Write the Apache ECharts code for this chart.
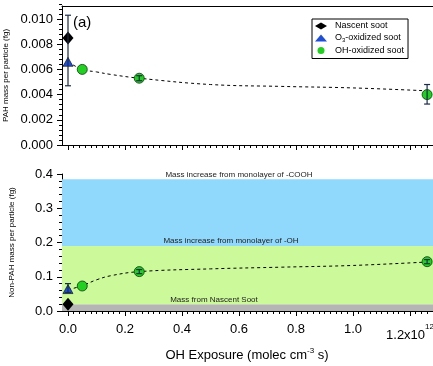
<!DOCTYPE html>
<html>
<head>
<meta charset="utf-8">
<script src="https://cdn.jsdelivr.net/npm/echarts@6/dist/echarts.min.js"></script>
<style>
  html, body { margin: 0; padding: 0; background: #fff; }
  #chart { width: 433px; height: 366px; }
</style>
</head>
<body>
<div id="chart"></div>
<script>
// values (OH exposure in 1e12 molec cm^-3 s)
const expNascent = [0];
const pahNascent = [0.0085];
const nonPahNascent = [0.02];

const expO3 = [0];
const pahO3 = [0.0066];
const nonPahO3 = [0.064];

const expOH = [0.05, 0.25, 1.26];
const pahOH = [0.0060, 0.0053, 0.0040];
const nonPahOH = [0.073, 0.115, 0.144];

// error bars
const pahErrX = [0, 0.25, 1.26];
const pahErrLo = [0.0047, 0.0051, 0.00325];
const pahErrHi = [0.0103, 0.0055, 0.0048];
const nonPahErrX = [0, 0.25, 1.26];
const nonPahErrLo = [0.054, 0.109, 0.138];
const nonPahErrHi = [0.080, 0.121, 0.150];

// dashed fit curves
const fitX = [0, 0.05, 0.1, 0.15, 0.25, 0.5, 0.75, 1.0, 1.26];
const pahFit = [0.0066, 0.0060, 0.0058, 0.0056, 0.0053, 0.0048, 0.00465, 0.00453, 0.0043];
const nonPahFit = [0.062, 0.074, 0.091, 0.103, 0.115, 0.123, 0.128, 0.133, 0.143];

// shaded bands of panel (b)
const bandLo = [0, 0.02, 0.19];
const bandHi = [0.02, 0.19, 0.385];
const bandText = ['Mass from Nascent Soot', 'Mass increase from monolayer of -OH', 'Mass increase from monolayer of -COOH'];

const xTickLabels = ['0.0', '0.2', '0.4', '0.6', '0.8', '1.0', '1.2'];

const FONT = 'Liberation Sans, Arial, sans-serif';
const X_MIN = -0.02105;   // left edge of the frame
const X_MAX = 1.4;        // past the right edge of the window
const bandColors = ['#b5b5b5', '#ccf99a', '#90d9fc'];

const zip = (xs, ys) => xs.map((x, i) => [x, ys[i]]);
const errData = (xs, lo, hi) => xs.map((x, i) => [x, lo[i], hi[i]]);

const chart = echarts.init(document.getElementById('chart'));

function errorBar(params, api) {
  const x = api.value(0);
  const p1 = api.coord([x, api.value(1)]);
  const p2 = api.coord([x, api.value(2)]);
  const w = 3;
  const st = { stroke: '#1b2b4a', lineWidth: 1.2 };
  return {
    type: 'group',
    children: [
      { type: 'line', shape: { x1: p1[0], y1: p1[1], x2: p2[0], y2: p2[1] }, style: st },
      { type: 'line', shape: { x1: p1[0] - w, y1: p1[1], x2: p1[0] + w, y2: p1[1] }, style: st },
      { type: 'line', shape: { x1: p2[0] - w, y1: p2[1], x2: p2[0] + w, y2: p2[1] }, style: st }
    ]
  };
}

const lineOnly = () => ({ show: true, onZero: false, lineStyle: { color: '#000', width: 1 } });
const noLine = () => ({ show: false, onZero: false });
const ticks = (len) => ({ show: true, length: len, lineStyle: { color: '#000', width: 1 } });
const minor = (n) => ({ show: true, splitNumber: n, length: 3, lineStyle: { color: '#000', width: 1 } });
const gridBase = { right: -34, containLabel: false, outerBoundsMode: 'none' };

const option = {
  backgroundColor: '#fff',
  animation: false,
  textStyle: { fontFamily: FONT },
  grid: [
    { ...gridBase, left: 62, top: 6, height: 139 },       // (a) frame + data
    { ...gridBase, left: 68, top: -6.2, height: 151.2 },  // (a) ticks
    { ...gridBase, left: 62, top: 174, height: 137 },     // (b) frame + data
    { ...gridBase, left: 68, top: 174, height: 137 }      // (b) x ticks
  ],
  xAxis: [
    { gridIndex: 0, type: 'value', min: X_MIN, max: X_MAX, axisLine: lineOnly(),
      axisTick: { show: false }, axisLabel: { show: false }, splitLine: { show: false } },
    { gridIndex: 0, type: 'value', position: 'top', min: X_MIN, max: X_MAX, axisLine: lineOnly(),
      axisTick: { show: false }, axisLabel: { show: false }, splitLine: { show: false } },
    { gridIndex: 1, type: 'value', min: 0, max: X_MAX, interval: 0.2, axisLine: noLine(),
      axisTick: ticks(5), minorTick: minor(10),
      axisLabel: { show: false }, splitLine: { show: false } },
    { gridIndex: 2, type: 'value', min: X_MIN, max: X_MAX, axisLine: lineOnly(),
      axisTick: { show: false }, axisLabel: { show: false }, splitLine: { show: false } },
    { gridIndex: 3, type: 'value', min: 0, max: X_MAX, interval: 0.2, axisLine: noLine(),
      axisTick: ticks(5), minorTick: minor(10),
      splitLine: { show: false },
      axisLabel: {
        color: '#000', fontSize: 13, margin: 12, fontFamily: FONT,
        formatter: (v) => {
          const i = Math.round(v / 0.2);
          if (i >= xTickLabels.length) return '';
          if (i === xTickLabels.length - 1) return '{m|' + xTickLabels[i] + 'x10}{s|12}';
          return xTickLabels[i];
        },
        rich: {
          m: { fontSize: 13, color: '#000', fontFamily: FONT, padding: [6, 0, 0, 0] },
          s: { fontSize: 8, color: '#000', fontFamily: FONT, verticalAlign: 'top' }
        }
      } }
  ],
  yAxis: [
    { gridIndex: 0, type: 'value', min: 0, max: 139 / 12600, axisLine: lineOnly(),
      axisTick: { show: false }, axisLabel: { show: false }, splitLine: { show: false },
      name: 'PAH mass per particle (fg)', nameLocation: 'middle', nameGap: 52,
      nameTextStyle: { fontSize: 8, color: '#000', fontFamily: FONT } },
    { gridIndex: 1, type: 'value', min: 0, max: 0.012, interval: 0.002, offset: 6,
      axisLine: noLine(),
      axisTick: ticks(5), minorTick: minor(5),
      splitLine: { show: false },
      axisLabel: { color: '#000', fontSize: 13, margin: 9, fontFamily: FONT, showMaxLabel: false,
        formatter: (v) => v.toFixed(3) } },
    { gridIndex: 2, type: 'value', min: 0, max: 0.4, interval: 0.1, axisLine: lineOnly(),
      axisTick: ticks(5), minorTick: minor(5),
      splitLine: { show: false },
      axisLabel: { color: '#000', fontSize: 13, margin: 9, fontFamily: FONT,
        formatter: (v) => v.toFixed(1) },
      name: 'Non-PAH mass per particle (fg)', nameLocation: 'middle', nameGap: 46,
      nameTextStyle: { fontSize: 8, color: '#000', fontFamily: FONT } },
    { gridIndex: 3, type: 'value', min: 0, max: 0.4, show: false }
  ],
  legend: {
    left: 312, top: 19, orient: 'vertical',
    itemWidth: 12, itemHeight: 7, itemGap: 2,
    padding: [2, 4, 3, 3],
    borderColor: '#000', borderWidth: 1, backgroundColor: '#fff',
    itemStyle: { borderWidth: 0 },
    data: ['Nascent soot', 'O3-oxidized soot', 'OH-oxidized soot'],
    formatter: (name) => name === 'O3-oxidized soot' ? 'O{sub|3}-oxidized soot' : name,
    textStyle: {
      fontSize: 9, color: '#000', fontFamily: FONT, lineHeight: 10, padding: [0, 0, 0, 3],
      rich: { sub: { fontSize: 6, fontFamily: FONT, color: '#000', padding: [5, 0, 0, 0] } }
    }
  },
  graphic: [
    { type: 'text', left: 73, top: 15, style: { text: '(a)', font: '15px ' + FONT, fill: '#000' } },
    { type: 'text', left: 75, top: 185, style: { text: '(b)', font: '15px ' + FONT, fill: '#000' } },
    { type: 'text', x: 239, y: 175, style: { text: bandText[2], font: '8px ' + FONT, fill: '#222', align: 'center', verticalAlign: 'middle' }, z: 10 },
    { type: 'text', x: 231, y: 241, style: { text: bandText[1], font: '8px ' + FONT, fill: '#222', align: 'center', verticalAlign: 'middle' }, z: 10 },
    { type: 'text', x: 214, y: 300, style: { text: bandText[0], font: '8px ' + FONT, fill: '#222', align: 'center', verticalAlign: 'middle' }, z: 10 },
    { type: 'text', x: 247, y: 355, style: {
        text: 'OH Exposure (molec cm{sup|-3} s)', font: '13px ' + FONT, fill: '#000',
        align: 'center', verticalAlign: 'middle',
        rich: { sup: { fontSize: 8, fontFamily: FONT, fill: '#000', padding: [0, 0, 8, 0] } }
      } }
  ],
  series: [
    // bands
    { type: 'line', xAxisIndex: 3, yAxisIndex: 2, data: [], silent: true, z: 0,
      markArea: {
        silent: true,
        data: bandLo.map((lo, i) => [
          { xAxis: 'min', yAxis: lo, itemStyle: { color: bandColors[i] } },
          { xAxis: 'max', yAxis: bandHi[i] }
        ])
      } },
    // fits
    { type: 'line', xAxisIndex: 0, yAxisIndex: 0, data: zip(fitX, pahFit), smooth: 0.4,
      showSymbol: false, lineStyle: { color: '#000', width: 1, type: [3, 3] }, z: 2 },
    { type: 'line', xAxisIndex: 3, yAxisIndex: 2, data: zip(fitX, nonPahFit), smooth: 0.4,
      showSymbol: false, lineStyle: { color: '#000', width: 1, type: [3, 3] }, z: 2 },
    // panel (a) markers
    { name: 'Nascent soot', type: 'scatter', xAxisIndex: 0, yAxisIndex: 0, data: zip(expNascent, pahNascent),
      symbol: 'diamond', symbolSize: [11, 13], itemStyle: { color: '#000', opacity: 1 }, clip: false, z: 4 },
    { name: 'O3-oxidized soot', type: 'scatter', xAxisIndex: 0, yAxisIndex: 0, data: zip(expO3, pahO3),
      symbol: 'triangle', symbolSize: [10, 9], itemStyle: { color: '#1f4fd6', borderColor: '#000', borderWidth: 0.6, opacity: 1 }, clip: false, z: 4 },
    { name: 'OH-oxidized soot', type: 'scatter', xAxisIndex: 0, yAxisIndex: 0, data: zip(expOH, pahOH),
      symbol: 'circle', symbolSize: 10, itemStyle: { color: '#21d021', borderColor: '#0d3a0d', borderWidth: 0.8, opacity: 1 }, clip: false, z: 4 },
    // panel (b) markers
    { name: 'Nascent soot', type: 'scatter', xAxisIndex: 3, yAxisIndex: 2, data: zip(expNascent, nonPahNascent),
      symbol: 'diamond', symbolSize: [11, 13], itemStyle: { color: '#000', opacity: 1 }, clip: false, z: 4 },
    { name: 'O3-oxidized soot', type: 'scatter', xAxisIndex: 3, yAxisIndex: 2, data: zip(expO3, nonPahO3),
      symbol: 'triangle', symbolSize: [10, 9], itemStyle: { color: '#1f4fd6', borderColor: '#000', borderWidth: 0.6, opacity: 1 }, clip: false, z: 4 },
    { name: 'OH-oxidized soot', type: 'scatter', xAxisIndex: 3, yAxisIndex: 2, data: zip(expOH, nonPahOH),
      symbol: 'circle', symbolSize: 10, itemStyle: { color: '#21d021', borderColor: '#0d3a0d', borderWidth: 0.8, opacity: 1 }, clip: false, z: 4 },
    // error bars
    { type: 'custom', xAxisIndex: 0, yAxisIndex: 0, data: errData(pahErrX, pahErrLo, pahErrHi),
      renderItem: errorBar, encode: { x: 0, y: [1, 2] }, clip: false, z: 5, silent: true },
    { type: 'custom', xAxisIndex: 3, yAxisIndex: 2, data: errData(nonPahErrX, nonPahErrLo, nonPahErrHi),
      renderItem: errorBar, encode: { x: 0, y: [1, 2] }, clip: false, z: 5, silent: true }
  ]
};

chart.setOption(option);
</script>
</body>
</html>
